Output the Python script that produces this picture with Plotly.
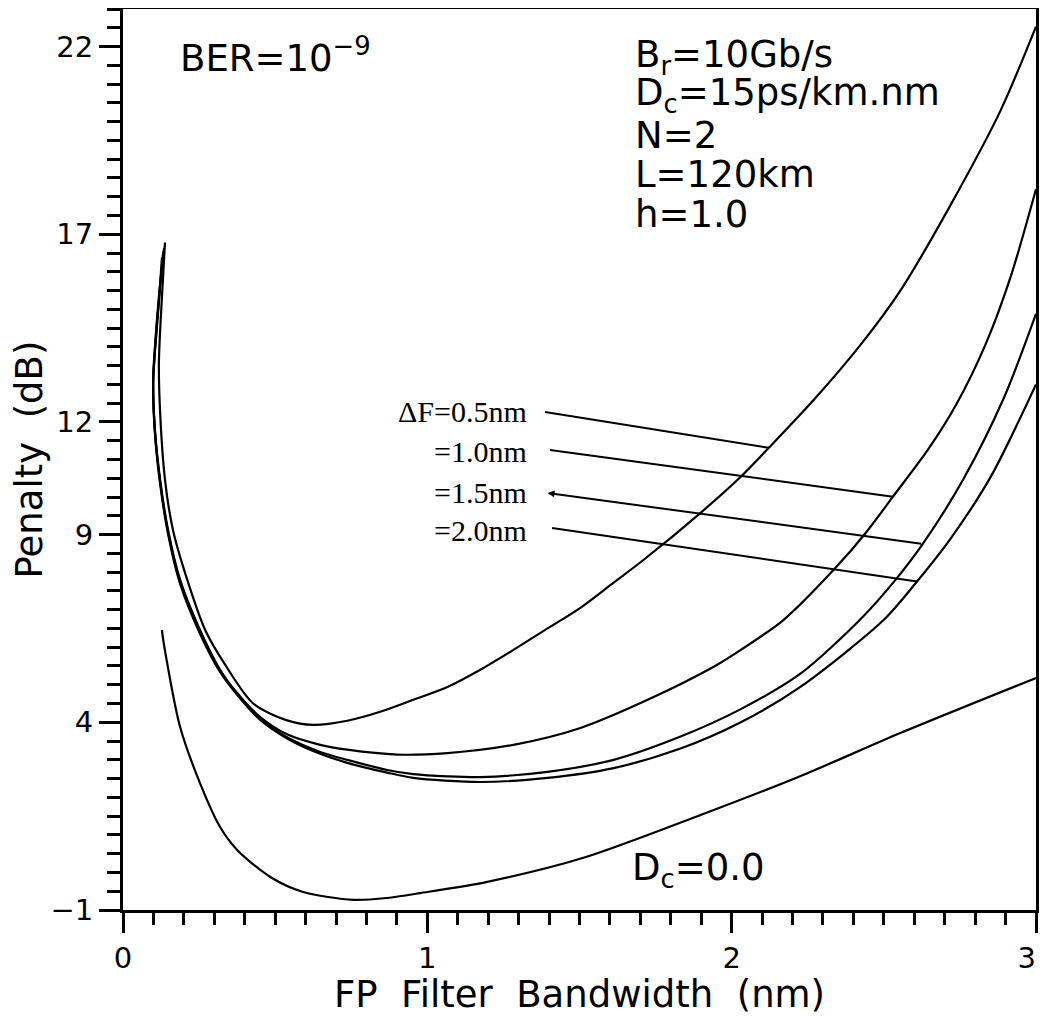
import numpy as np
import plotly.graph_objects as go

# ---------------- data ----------------
# ΔF = 0.5 nm
bw_05 = [0.138, 0.128, 0.118, 0.122, 0.138, 0.164, 0.211, 0.270, 0.336, 0.428, 0.539, 0.625,
         0.737, 0.845, 0.954, 1.066, 1.174, 1.283, 1.395, 1.503, 1.612, 1.711, 1.898,
         2.030, 2.122, 2.270, 2.424, 2.556, 2.720, 2.885, 3.000]
pen_05 = [16.78, 15.34, 13.58, 12.25, 10.46, 9.13, 7.80, 6.46, 5.53, 4.50, 4.05, 3.93,
          4.04, 4.28, 4.60, 4.94, 5.40, 5.93, 6.50, 7.05, 7.72, 8.33, 9.58,
          10.54, 11.31, 12.59, 14.06, 15.52, 17.79, 20.32, 22.53]

# ΔF = 1.0 nm
bw_10 = [0.135, 0.118, 0.105, 0.099, 0.105, 0.122, 0.148, 0.1875, 0.253, 0.319, 0.375, 0.451,
         0.539, 0.648, 0.737, 0.901, 1.066, 1.283, 1.503, 1.724, 1.941, 2.030, 2.171, 2.342,
         2.441, 2.530, 2.645, 2.737, 2.836, 2.918, 3.000]
pen_10 = [16.64, 15.34, 14.01, 13.13, 11.79, 10.46, 9.13, 7.80, 6.46, 5.40, 4.78, 4.14,
          3.68, 3.40, 3.27, 3.14, 3.18, 3.40, 3.85, 4.60, 5.48, 5.93, 6.73, 8.12,
          9.05, 10.01, 11.26, 12.45, 14.10, 15.90, 18.20]

# ΔF = 1.5 nm
bw_15 = [0.132, 0.118, 0.105, 0.099, 0.105, 0.122, 0.148, 0.1875, 0.253, 0.319, 0.375, 0.451,
         0.539, 0.648, 0.737, 0.868, 0.954, 1.066, 1.174, 1.395, 1.612, 1.832, 2.030, 2.227,
         2.424, 2.539, 2.628, 2.763, 2.895, 3.000]
pen_15 = [16.54, 15.26, 13.93, 13.05, 11.74, 10.41, 9.07, 7.74, 6.41, 5.37, 4.76, 4.09,
          3.60, 3.21, 3.00, 2.73, 2.62, 2.56, 2.54, 2.68, 3.00, 3.62, 4.35, 5.30,
          6.75, 7.80, 8.75, 10.50, 12.65, 14.88]

# ΔF = 2.0 nm
bw_20 = [0.128, 0.118, 0.105, 0.099, 0.105, 0.122, 0.148, 0.1875, 0.253, 0.319, 0.375, 0.451,
         0.539, 0.648, 0.737, 0.868, 0.954, 1.174, 1.395, 1.612, 1.832, 2.030, 2.227, 2.500,
         2.609, 2.720, 2.852, 3.000]
pen_20 = [16.38, 15.20, 13.87, 12.99, 11.69, 10.35, 9.02, 7.69, 6.36, 5.34, 4.73, 4.06,
          3.57, 3.16, 2.92, 2.66, 2.52, 2.41, 2.52, 2.78, 3.30, 4.00, 4.95, 6.73,
          7.75, 8.90, 10.55, 13.00]

# Dc = 0.0
bw_d0 = [0.128, 0.132, 0.1875, 0.253, 0.319, 0.375, 0.484, 0.592, 0.757, 0.868, 0.977, 1.197,
         1.513, 1.898, 2.227, 2.556, 3.000]
pen_d0 = [6.46, 6.20, 3.88, 2.38, 1.21, 0.60, -0.12, -0.52, -0.73, -0.68, -0.55, -0.25,
          0.39, 1.53, 2.57, 3.72, 5.18]

# ticks
nb = "\u00a0"
x_tickvals = [0, 1, 2, 3]
x_ticktext = ["0", "1", "2", "3" + nb + nb]   # padding keeps the last label inside the page
y_tickvals = [-1, 4, 9, 12, 17, 22]
y_ticktext = ["\u22121", "4", "9", "12", "17", "22"]

# curve labels and their leader lines
df_labels = ["\u0394F=0.5nm", "=1.0nm", "=1.5nm", "=2.0nm"]
label_y = [12.27, 11.20, 10.12, 9.10]
leader_start_x = [1.382, 1.398, 1.395, 1.405]
leader_start_y = [12.27, 11.26, 10.11, 9.18]
leader_end_x = [2.122, 2.530, 2.628, 2.609]

curves_x = [bw_05, bw_10, bw_15, bw_20]
curves_y = [pen_05, pen_10, pen_15, pen_20]

# ---------------- figure ----------------
fig = go.Figure()
line_style = dict(color="black", width=2.2, shape="spline", smoothing=0.8)
for cx, cy, name in zip(curves_x, curves_y, df_labels):
    fig.add_trace(go.Scatter(x=cx, y=cy, mode="lines", line=line_style,
                             name=name, showlegend=False))
fig.add_trace(go.Scatter(x=bw_d0, y=pen_d0, mode="lines", line=line_style,
                         name="Dc=0", showlegend=False))

annotations = []
# leader lines (from label to its curve)
for i, (sx, sy, ex) in enumerate(zip(leader_start_x, leader_start_y, leader_end_x)):
    cx = np.array(curves_x[i]); cy = np.array(curves_y[i])
    m = cx >= 1.0
    ey = float(np.interp(ex, cx[m], cy[m]))
    if i == 2:
        annotations.append(dict(x=sx, y=sy, ax=ex, ay=ey, xref="x", yref="y",
                                axref="x", ayref="y", text="", showarrow=True,
                                arrowhead=2, arrowsize=0.7, arrowwidth=2, arrowcolor="black"))
    else:
        annotations.append(dict(x=ex, y=ey, ax=sx, ay=sy, xref="x", yref="y",
                                axref="x", ayref="y", text="", showarrow=True,
                                arrowhead=0, arrowwidth=2, arrowcolor="black"))

serif = dict(family="Liberation Serif", size=30, color="black")
for txt, ly in zip(df_labels, label_y):
    annotations.append(dict(x=1.333, y=ly, xref="x", yref="y", text=txt, showarrow=False,
                            xanchor="right", yanchor="middle", font=serif))

sans = dict(family="DejaVu Sans", size=37, color="black")
annotations.append(dict(x=0.0602, y=0.948, xref="paper", yref="paper",
                        text="BER=10<sup>\u22129</sup>", showarrow=False,
                        xanchor="left", yanchor="middle", font=sans))
block = ["B<sub>r</sub>=10Gb/s", "D<sub>c</sub>=15ps/km.nm", "N=2", "L=120km", "h=1.0"]
block_y = [0.947, 0.904, 0.860, 0.816, 0.772]
for t, yy in zip(block, block_y):
    annotations.append(dict(x=0.5586, y=yy, xref="paper", yref="paper", text=t,
                            showarrow=False, xanchor="left", yanchor="middle", font=sans))
annotations.append(dict(x=0.5553, y=0.044, xref="paper", yref="paper",
                        text="D<sub>c</sub>=0.0", showarrow=False,
                        xanchor="left", yanchor="middle", font=sans))

tickfont = dict(family="DejaVu Sans", size=29, color="black")
titlefont = dict(family="DejaVu Sans", size=37, color="black")

# the page body adds an 8px margin; size the figure so the plot frame lands
# where the reference frame is
fig.update_layout(
    width=1039, height=1008,
    margin=dict(l=115, r=11, t=1, b=106, autoexpand=False),
    plot_bgcolor="white", paper_bgcolor="white",
    annotations=annotations,
    showlegend=False,
)
fig.update_xaxes(
    range=[0, 3], showgrid=False, zeroline=False, automargin=False,
    showline=True, linewidth=3, linecolor="black", mirror=True,
    tickmode="array", tickvals=x_tickvals, ticktext=x_ticktext,
    ticks="outside", ticklen=20, tickwidth=3, tickcolor="black", tickfont=tickfont,
    ticklabeloverflow="allow",
    minor=dict(tickmode="linear", tick0=0, dtick=0.1, ticks="outside",
               ticklen=12, tickwidth=3, tickcolor="black"),
    title=dict(text=f"FP{nb}{nb}Filter{nb}{nb}Bandwidth{nb}{nb}(nm)", font=titlefont, standoff=6),
)
fig.update_yaxes(
    range=[-1, 23.0], showgrid=False, zeroline=False, automargin=False,
    showline=True, linewidth=3, linecolor="black", mirror=True,
    tickmode="array", tickvals=y_tickvals, ticktext=y_ticktext,
    ticks="outside", ticklen=21, tickwidth=3, tickcolor="black", tickfont=tickfont,
    minor=dict(tickmode="linear", tick0=-1, dtick=0.5, ticks="outside",
               ticklen=13, tickwidth=3, tickcolor="black"),
    title=dict(text=f"Penalty{nb}{nb}(dB)", font=titlefont, standoff=12),
)

fig.write_html("out.html")
